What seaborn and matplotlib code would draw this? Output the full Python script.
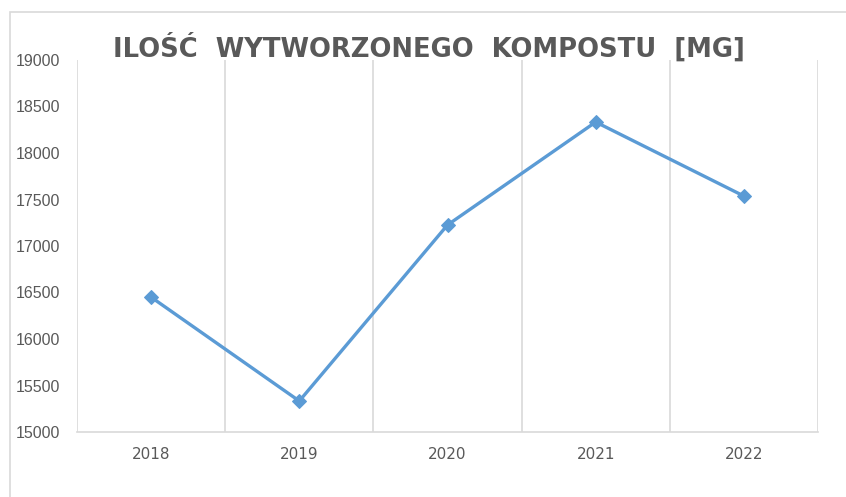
import matplotlib
matplotlib.use("Agg")
import matplotlib.pyplot as plt
import seaborn as sns
import pandas as pd
from matplotlib.patches import Rectangle

years = ["2018", "2019", "2020", "2021", "2022"]
values = [16450, 15333, 17226, 18333, 17537]
yticks = [15000, 15500, 16000, 16500, 17000, 17500, 18000, 18500, 19000]
title = "ILOŚĆ  WYTWORZONEGO  KOMPOSTU  [MG]"

df = pd.DataFrame({"year": years, "value": values})

sns.set_style("white")
plt.rcParams["font.family"] = ["Liberation Sans", "DejaVu Sans"]

W, H = 846, 497
fig = plt.figure(figsize=(W / 100, H / 100), dpi=100)
ax = fig.add_axes([77 / W, 1 - 432 / H, (818 - 77) / W, (432 - 60) / H])

sns.lineplot(data=df, x="year", y="value", ax=ax, color="#5B9BD5", linewidth=2.4,
             marker="D", markersize=7, markeredgecolor="#5B9BD5", sort=False)

grid_c = "#D9D9D9"
ax.set_xlim(-0.5, len(years) - 0.5)
ax.set_ylim(yticks[0], yticks[-1])
for b in [i + 0.5 for i in range(-1, len(years))]:
    ax.axvline(b, color=grid_c, linewidth=1.2, zorder=0)
ax.set_yticks(yticks)
ax.set_yticklabels([str(t) for t in yticks])
for s in ["top", "right", "left"]:
    ax.spines[s].set_visible(False)
ax.spines["bottom"].set_color(grid_c)
ax.spines["bottom"].set_linewidth(1.2)
ax.tick_params(axis="y", length=0, pad=12, labelsize=11.5, labelcolor="#595959")
ax.tick_params(axis="x", length=0, pad=11, labelsize=11, labelcolor="#595959")
for lab in ax.get_xticklabels():
    lab.set_family(["DejaVu Sans"])
ax.set_xlabel("")
ax.set_ylabel("")

fig.text(428.5 / W, 1 - 57 / H, title, ha="center", va="baseline", fontsize=18.6,
         fontweight="bold", color="#595959", family=["DejaVu Sans"])

fig.patches.append(Rectangle((10 / W, -0.1), 1.2, 1 - 12 / H + 0.1, transform=fig.transFigure,
                             fill=False, edgecolor=grid_c, linewidth=1.2))

fig.savefig("out.png", dpi=100)
